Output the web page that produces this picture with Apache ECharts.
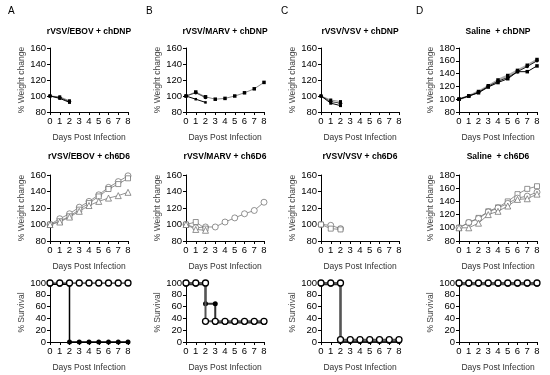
<!DOCTYPE html>
<html><head><meta charset="utf-8">
<script src="https://cdn.jsdelivr.net/npm/echarts@6/dist/echarts.min.js"></script>
<style>html,body{margin:0;padding:0;background:#fff}#c{width:550px;height:375px}</style>
</head><body><div id="c"></div>
<script>
const days = [0,1,2,3,4,5,6,7,8];
const panelLetters = ['A','B','C','D'];
const titlesRow1 = ['rVSV/EBOV + chDNP','rVSV/MARV + chDNP','rVSV/VSV + chDNP','Saline  + chDNP'];
const titlesRow2 = ['rVSV/EBOV + ch6D6','rVSV/MARV + ch6D6','rVSV/VSV + ch6D6','Saline  + ch6D6'];
const weightTicks = [80,100,120,140,160];
const salineTicks = [80,100,120,140,160,180];
const survTicks = [0,20,40,60,80,100];

// Row 1 (chDNP) weights
const ebovDNP_1 = [100,98,93];
const ebovDNP_2 = [100,97,92];
const ebovDNP_3 = [100,99,94];
const marvDNP_1 = [100,105,99,96,97,100,104,109,117];
const marvDNP_2 = [100,104,98];
const marvDNP_3 = [100,96,92];
const vsvDNP_1 = [100,95,93];
const vsvDNP_2 = [100,93,91];
const vsvDNP_3 = [100,91,88];
const salDNP_1 = [100,105,111,120,128,134,143,151,160];
const salDNP_2 = [100,105,110,119,126,132,143,143,152];
const salDNP_3 = [100,105,112,121,130,137,145,153,162];

// Row 2 (ch6D6) weights
const ebov6D6_1 = [100,107,113,121,128,136,145,152,159];
const ebov6D6_2 = [100,104,110,118,126,134,143,149,156];
const ebov6D6_3 = [100,103,109,116,123,128,132,135,139];
const marv6D6_1 = [100,96,97,97,103,108,113,117,127];
const marv6D6_2 = [100,103,95];
const marv6D6_3 = [100,94,93];
const vsv6D6_1 = [100,99,95];
const vsv6D6_2 = [100,95,94];
const sal6D6_1 = [100,108,115,125,131,140,151,159,163];
const sal6D6_2 = [100,108,114,124,130,137,145,148,154];
const sal6D6_3 = [100,100,107,120,125,133,143,144,151];

// Row 3 survival (day, %)
const ebovSurvDNP_x = [0,1,2,2,3,4,5,6,7,8];
const ebovSurvDNP_y = [98,98,98,0,0,0,0,0,0,0];
const ebovSurv6D6_x = days;
const ebovSurv6D6_y = [100,100,100,100,100,100,100,100,100];
const marvSurvDNP_x = [0,1,2,2,3,3,4,5,6,7,8];
const marvSurvDNP_y = [98,98,98,65,65,33,33,33,33,33,33];
const marvSurv6D6_x = [0,1,2,2,3,4,5,6,7,8];
const marvSurv6D6_y = [100,100,100,35,35,35,35,35,35,35];
const vsvSurvDNP_x = [0,1,2,2,3,4,5,6,7,8];
const vsvSurvDNP_y = [98,98,98,1,1,1,1,1,1,1];
const vsvSurv6D6_x = [0,1,2,2,3,4,5,6,7,8];
const vsvSurv6D6_y = [100,100,100,4,4,4,4,4,4,4];
const salSurvDNP_y = [98,98,98,98,98,98,98,98,98];
const salSurv6D6_y = [100,100,100,100,100,100,100,100,100];

const FONT = 'Liberation Sans, Arial, sans-serif';
const colLeft = [50, 186, 321, 459];
const gridW = 78;
const rowTop = [48, 175, 283];
const rowH = [64, 66, 59];

const grids = [], xAxes = [], yAxes = [], series = [], graphics = [];
let gi = 0;
function addPanel(r, c, ticks) {
  grids.push({left: colLeft[c], top: rowTop[r], width: gridW, height: rowH[r]});
  xAxes.push({type:'value', gridIndex: gi, min:0, max:8, interval:1,
    name:'Days Post Infection', nameLocation:'middle', nameGap: 21,
    nameTextStyle:{fontFamily:FONT, fontSize:8.5, color:'#333'},
    axisLine:{onZero:false, lineStyle:{color:'#000', width:1}},
    axisTick:{show:true, length:3, lineStyle:{color:'#000'}},
    axisLabel:{fontFamily:FONT, fontSize:9.5, color:'#000', margin:4},
    splitLine:{show:false}});
  const step = ticks[1]-ticks[0];
  yAxes.push({type:'value', gridIndex: gi, min:ticks[0], max:ticks[ticks.length-1], interval:step,
    name: r===2 ? '% Survival' : '% Weight change', nameLocation:'middle', nameGap: 22,
    nameTextStyle:{fontFamily:FONT, fontSize:8.5, color:'#444'},
    axisLine:{show:true, onZero:false, lineStyle:{color:'#000', width:1}},
    axisTick:{show:true, length:3, lineStyle:{color:'#000'}},
    axisLabel:{fontFamily:FONT, fontSize:9.5, color:'#000', margin:4},
    splitLine:{show:false}});
  return gi++;
}
function line(g, xs, ys, sym, size, lineColor, lw, z, mColor, mBorder) {
  const empty = sym.indexOf('empty') === 0;
  series.push({type:'line', xAxisIndex:g, yAxisIndex:g,
    data: ys.map((v,i)=>[xs[i], v]),
    symbol: empty ? sym.replace('empty','').toLowerCase() : sym, symbolSize: size, showSymbol:true,
    lineStyle:{color:lineColor, width:lw},
    itemStyle: empty ? {color:'#fff', borderColor: mColor||'#666', borderWidth: mBorder||0.7} : {color:'#000', borderWidth:0},
    emphasis:{disabled:true},
    z: z||2, animation:false});
}

for (let c=0;c<4;c++) {
  const cx = colLeft[c] + gridW/2;
  graphics.push({type:'text', left: [8,146,281,416][c], top: 6,
    style:{text: panelLetters[c], font: '10px '+FONT, fill:'#000'}});
  graphics.push({type:'text', x: cx, y: 32,
    style:{text: titlesRow1[c], font: 'bold 8.5px '+FONT, fill:'#000', textAlign:'center', textVerticalAlign:'middle'}});
  graphics.push({type:'text', x: cx, y: 157,
    style:{text: titlesRow2[c], font: 'bold 8.5px '+FONT, fill:'#000', textAlign:'center', textVerticalAlign:'middle'}});
}

// Row 1
let g = addPanel(0,0,weightTicks);
line(g, days, ebovDNP_3, 'rect', 3, '#999', 1);
line(g, days, ebovDNP_1, 'circle', 3.5, '#444', 1);
line(g, days, ebovDNP_2, 'rect', 3, '#000', 1);
g = addPanel(0,1,weightTicks);
line(g, days, marvDNP_1, 'rect', 3.5, '#888', 1);
line(g, days, marvDNP_2, 'circle', 3.5, '#444', 1);
line(g, days, marvDNP_3, 'rect', 2.5, '#000', 1);
g = addPanel(0,2,weightTicks);
line(g, days, vsvDNP_1, 'rect', 3, '#999', 1);
line(g, days, vsvDNP_2, 'circle', 3.5, '#444', 1);
line(g, days, vsvDNP_3, 'rect', 3, '#000', 1);
g = addPanel(0,3,salineTicks);
line(g, days, salDNP_3, 'rect', 3.5, '#aaa', 2);
line(g, days, salDNP_1, 'circle', 3.5, '#222', 1);
line(g, days, salDNP_2, 'rect', 3.5, '#000', 1);

// Row 2
g = addPanel(1,0,weightTicks);
line(g, days, ebov6D6_1, 'emptyCircle', 6, '#777', 0.8);
line(g, days, ebov6D6_2, 'emptyRect', 5, '#777', 0.8);
line(g, days, ebov6D6_3, 'emptyTriangle', 6, '#777', 0.8);
g = addPanel(1,1,weightTicks);
line(g, days, marv6D6_1, 'emptyCircle', 6, '#777', 0.8);
line(g, days, marv6D6_2, 'emptyRect', 5, '#777', 0.8);
line(g, days, marv6D6_3, 'emptyTriangle', 6, '#777', 0.8);
g = addPanel(1,2,weightTicks);
line(g, days, vsv6D6_1, 'emptyCircle', 6, '#777', 0.8);
line(g, days, vsv6D6_2, 'emptyRect', 5, '#777', 0.8);
g = addPanel(1,3,salineTicks);
line(g, days, sal6D6_1, 'emptyRect', 5, '#777', 0.8);
line(g, days, sal6D6_2, 'emptyCircle', 6, '#777', 0.8);
line(g, days, sal6D6_3, 'emptyTriangle', 6, '#777', 0.8);

// Row 3 survival
g = addPanel(2,0,survTicks);
line(g, ebovSurvDNP_x, ebovSurvDNP_y, 'circle', 5, '#000', 1.5, 3);
line(g, ebovSurv6D6_x, ebovSurv6D6_y, 'emptyCircle', 6, '#333', 1.5, 4, '#000', 1.3);
g = addPanel(2,1,survTicks);
line(g, marvSurvDNP_x, marvSurvDNP_y, 'circle', 5, '#333', 2, 3);
line(g, marvSurv6D6_x, marvSurv6D6_y, 'emptyCircle', 6, '#555', 2, 4, '#000', 1.3);
g = addPanel(2,2,survTicks);
line(g, vsvSurvDNP_x, vsvSurvDNP_y, 'circle', 5, '#333', 2, 3);
line(g, vsvSurv6D6_x, vsvSurv6D6_y, 'emptyCircle', 6, '#555', 2, 4, '#000', 1.3);
g = addPanel(2,3,survTicks);
line(g, days, salSurvDNP_y, 'circle', 5, '#555', 2, 3);
line(g, days, salSurv6D6_y, 'emptyCircle', 6, '#555', 2, 4, '#000', 1.3);

const chart = echarts.init(document.getElementById('c'), null, {renderer:'canvas'});
chart.setOption({animation:false, grid:grids, xAxis:xAxes, yAxis:yAxes, series:series, graphic:graphics});
</script></body></html>
